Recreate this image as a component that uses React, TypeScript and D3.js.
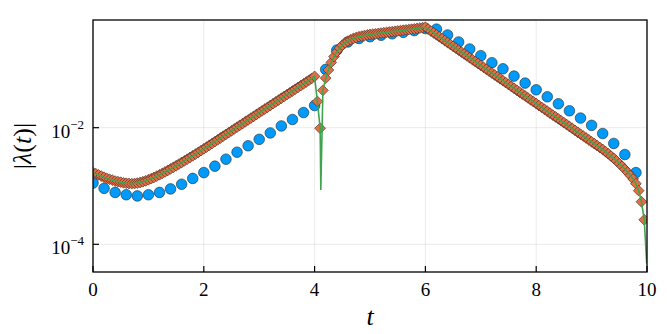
import React from "react";
import * as d3 from "d3";

const W = 667;
const H = 334;
const margin = { left: 93, right: 20, top: 20, bottom: 62 };

const xTicks = [0, 2, 4, 6, 8, 10];
const yTickExps = [-4, -2];
const xDomain = [0, 10];
const yDomain = [3.35e-5, 0.703];

// blue circles: t = 0, 0.2, ..., 9.8  (values stored as log10 |λ|)
const circleStep = 0.2;
const circleLog = [
  -2.95, -3.04, -3.11, -3.15, -3.17, -3.15, -3.11, -3.05, -2.97, -2.87,
  -2.77, -2.66, -2.54, -2.42, -2.31, -2.2, -2.09, -1.97, -1.86, -1.74,
  -1.62, -1.0, -0.67, -0.53, -0.47, -0.44, -0.415, -0.39, -0.365, -0.335,
  -0.3, -0.31, -0.41, -0.53, -0.65, -0.765, -0.885, -0.99, -1.115, -1.235,
  -1.35, -1.47, -1.59, -1.71, -1.835, -1.96, -2.1, -2.27, -2.46, -2.77,
];

// orange diamonds: t = 0, 0.05, ..., 9.95  (log10 |λ|)
const diamondStep = 0.05;
const diamondLog = [
  -2.77, -2.79, -2.81, -2.83, -2.85, -2.87, -2.885, -2.9, -2.915, -2.925,
  -2.935, -2.945, -2.952, -2.957, -2.96, -2.957, -2.95, -2.94, -2.927, -2.912,
  -2.893, -2.874, -2.853, -2.831, -2.808, -2.784, -2.759, -2.733, -2.707, -2.68,
  -2.653, -2.625, -2.597, -2.569, -2.54, -2.511, -2.482, -2.453, -2.423, -2.393,
  -2.363, -2.332, -2.301, -2.27, -2.239, -2.208, -2.177, -2.146, -2.115, -2.084,
  -2.053, -2.022, -1.991, -1.96, -1.929, -1.898, -1.867, -1.836, -1.805, -1.774,
  -1.743, -1.712, -1.681, -1.65, -1.619, -1.588, -1.557, -1.526, -1.495, -1.464,
  -1.433, -1.402, -1.371, -1.34, -1.309, -1.278, -1.247, -1.216, -1.185, -1.154,
  -1.12, -1.55, -2.01, -1.36, -1.15, -1.01, -0.88, -0.78, -0.7, -0.635,
  -0.585, -0.545, -0.515, -0.49, -0.47, -0.455, -0.44, -0.43, -0.42, -0.41,
  -0.4, -0.395, -0.39, -0.383, -0.377, -0.371, -0.365, -0.359, -0.353, -0.347,
  -0.341, -0.335, -0.329, -0.323, -0.317, -0.311, -0.305, -0.298, -0.291, -0.284,
  -0.277, -0.31, -0.343, -0.375, -0.408, -0.441, -0.474, -0.506, -0.539, -0.572,
  -0.605, -0.637, -0.67, -0.703, -0.736, -0.768, -0.801, -0.834, -0.867, -0.899,
  -0.932, -0.965, -0.998, -1.03, -1.063, -1.096, -1.129, -1.161, -1.194, -1.227,
  -1.26, -1.292, -1.325, -1.358, -1.391, -1.423, -1.456, -1.489, -1.522, -1.554,
  -1.587, -1.62, -1.653, -1.685, -1.718, -1.751, -1.784, -1.816, -1.849, -1.882,
  -1.915, -1.947, -1.98, -2.013, -2.046, -2.078, -2.111, -2.144, -2.177, -2.209,
  -2.242, -2.275, -2.308, -2.34, -2.373, -2.41, -2.447, -2.486, -2.527, -2.57,
  -2.615, -2.662, -2.712, -2.765, -2.82, -2.88, -2.96, -3.08, -3.27, -3.58,
];

// green line follows the diamonds, plus the deep dips it shows
const lineExtraT = [4.112, 9.995];
const lineExtraLog = [-3.07, -4.33];

type Pt = { t: number; v: number };

const BLUE = "rgb(0,154,250)";
const ORANGE = "rgb(227,111,71)";
const GREEN = "rgb(62,164,78)";
const FONT = "'Liberation Serif', 'DejaVu Serif', serif";

export default function App() {
  const x = d3.scaleLinear().domain(xDomain).range([margin.left, W - margin.right]);
  const y = d3.scaleLog().domain(yDomain).range([H - margin.bottom, margin.top]);

  const circles: Pt[] = circleLog.map((l, i) => ({ t: i * circleStep, v: Math.pow(10, l) }));
  const diamonds: Pt[] = diamondLog.map((l, i) => ({ t: i * diamondStep, v: Math.pow(10, l) }));
  const extras: Pt[] = lineExtraT.map((t, i) => ({ t, v: Math.pow(10, lineExtraLog[i]) }));
  const linePts = [...diamonds, ...extras].sort((a, b) => a.t - b.t);

  const line = d3.line<Pt>().x(d => x(d.t)).y(d => y(d.v));
  const r = 5.4;
  const diamondPath = `M0,${-r}L${r},0L0,${r}L${-r},0Z`;

  const [x0, x1] = x.range();
  const [y0, y1] = y.range();

  return (
    <svg width={W} height={H} style={{ position: "absolute", left: 0, top: 0, background: "#fff" }}>
      <defs>
        <clipPath id="plot">
          <rect x={x0} y={y1} width={x1 - x0} height={y0 - y1} />
        </clipPath>
      </defs>

      {/* grid */}
      {xTicks.map(t => (
        <line key={"gx" + t} x1={x(t)} x2={x(t)} y1={y1} y2={y0} stroke="#000" strokeOpacity={0.1} strokeWidth={0.8} />
      ))}
      {yTickExps.map(e => (
        <line key={"gy" + e} x1={x0} x2={x1} y1={y(Math.pow(10, e))} y2={y(Math.pow(10, e))} stroke="#000" strokeOpacity={0.1} strokeWidth={0.8} />
      ))}

      <g clipPath="url(#plot)">
        {circles.map((d, i) => (
          <circle key={"c" + i} cx={x(d.t)} cy={y(d.v)} r={5.3} fill={BLUE} stroke="#1c2a33" strokeWidth={0.6} />
        ))}
        {diamonds.map((d, i) => (
          <path key={"d" + i} d={diamondPath} transform={`translate(${x(d.t)},${y(d.v)})`} fill={ORANGE} stroke="#3b2418" strokeWidth={0.6} />
        ))}
        <path d={line(linePts) ?? ""} fill="none" stroke={GREEN} strokeWidth={1.6} />
      </g>

      {/* frame */}
      <rect x={x0} y={y1} width={x1 - x0} height={y0 - y1} fill="none" stroke="#000" strokeWidth={1.3} />

      {/* ticks */}
      {xTicks.map(t => (
        <g key={"tx" + t}>
          <line x1={x(t)} x2={x(t)} y1={y0} y2={y0 - 6} stroke="#000" strokeWidth={1.2} />
          <text x={x(t)} y={296} textAnchor="middle" fontFamily={FONT} fontSize={19}>{t}</text>
        </g>
      ))}
      {yTickExps.map(e => {
        const yy = y(Math.pow(10, e));
        return (
          <g key={"ty" + e}>
            <line x1={x0} x2={x0 + 6} y1={yy} y2={yy} stroke="#000" strokeWidth={1.2} />
            <text x={84} y={yy + 10} textAnchor="end" fontFamily={FONT} fontSize={19}>
              10<tspan dy={-9} fontSize={13}>{"\u2212" + Math.abs(e)}</tspan>
            </text>
          </g>
        );
      })}

      {/* axis labels */}
      <text x={(x0 + x1) / 2} y={325} textAnchor="middle" fontFamily={FONT} fontSize={26} fontStyle="italic">t</text>
      <text transform={`translate(31,${(y0 + y1) / 2}) rotate(-90)`} textAnchor="middle" fontFamily={FONT} fontSize={26}>
        |<tspan fontStyle="italic">λ</tspan>(<tspan fontStyle="italic">t</tspan>)|
      </text>
    </svg>
  );
}
